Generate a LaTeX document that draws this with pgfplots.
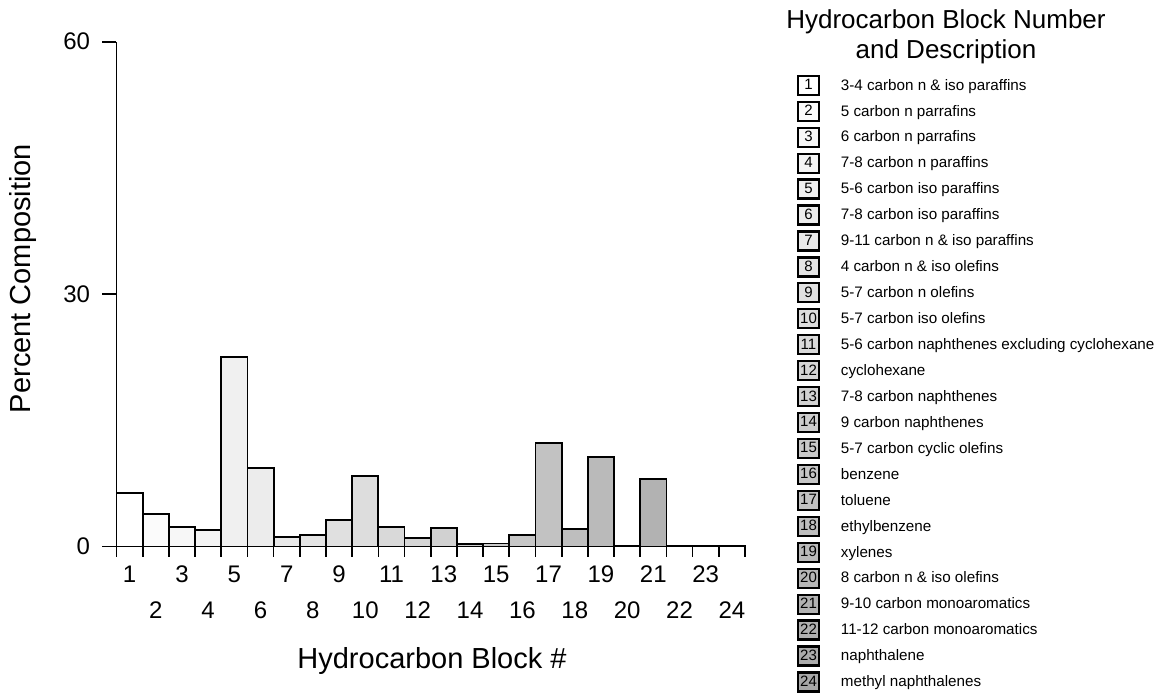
\documentclass[border=0pt]{standalone}
\usepackage{pgfplots}
\pgfplotsset{compat=1.18}
\usepackage{fontspec}
\setmainfont{Liberation Sans}

\newcommand{\hcbar}[4]{%
\addplot[ybar, bar width=1, bar shift=0pt, draw=black, line width=1.8pt, fill=black!#3,
  legend image code/.code={%
    \node[draw=black, line width=2.2pt, fill=black!#3, minimum width=21pt, minimum height=19pt,
      inner sep=0pt, anchor=west, font=\fontsize{15}{15}\selectfont] at (0pt,0pt) {#1};
    \path[draw=none, fill=none] (0pt,0pt) -- (42pt,0pt);}]
  coordinates {(#1,#2)};
\addlegendentry{#4}}

\begin{document}
\begin{tikzpicture}
\begin{axis}[
  name=ax, scale only axis, width=628.5pt, height=504.8pt,
  xmin=0.5, xmax=24.5, ymin=0, ymax=60, clip=false,
  axis x line=bottom, axis y line=left,
  axis line style={-, line width=1.7pt},
  ytick={0,30,60},
  xtick={1,...,24},
  minor xtick={0.5,1.5,...,24.5},
  tick align=outside,
  major tick length=14pt, minor tick length=10pt,
  every tick/.style={black, line width=1.7pt},
  major x tick style={draw=none},
  tick label style={font=\fontsize{24}{24}\selectfont},
  yticklabel style={xshift=-9pt},
  xticklabel style={yshift=-2pt},
  /pgf/number format/assume math mode=true,
  xticklabel={\pgfmathtruncatemacro\t{\tick}\ifodd\t\relax\t\else\vphantom{0}\smash{\raisebox{-35.6pt}{\t}}\fi},
  xlabel={Hydrocarbon Block \#},
  ylabel={Percent Composition},
  label style={font=\fontsize{29}{29}\selectfont},
  xlabel style={at={(axis description cs:0.502,-0.227)}, anchor=center},
  ylabel style={at={(axis description cs:-0.149,0.531)}, anchor=center, rotate=0},
  legend style={at={(axis description cs:1.0823,0.935)}, anchor=north west, draw=none, fill=none,
    font=\fontsize{15.2}{15.2}\selectfont, row sep=4.74pt, inner sep=0pt},
  legend cell align=left,
]
\hcbar{1}{6.32}{0}{3-4 carbon n \& iso paraffins}
\hcbar{2}{3.83}{1.5}{5 carbon n parrafins}
\hcbar{3}{2.32}{3}{6 carbon n parrafins}
\hcbar{4}{1.96}{4.5}{7-8 carbon n paraffins}
\hcbar{5}{22.49}{6}{5-6 carbon iso paraffins}
\hcbar{6}{9.37}{7.5}{7-8 carbon iso paraffins}
\hcbar{7}{1.16}{9}{9-11 carbon n \& iso paraffins}
\hcbar{8}{1.40}{10.5}{4 carbon n \& iso olefins}
\hcbar{9}{3.11}{12}{5-7 carbon n olefins}
\hcbar{10}{8.38}{13.5}{5-7 carbon iso olefins}
\hcbar{11}{2.28}{15}{5-6 carbon naphthenes excluding cyclohexane}
\hcbar{12}{0.97}{16.5}{cyclohexane}
\hcbar{13}{2.20}{18}{7-8 carbon naphthenes}
\hcbar{14}{0.30}{19.5}{9 carbon naphthenes}
\hcbar{15}{0.35}{21}{5-7 carbon cyclic olefins}
\hcbar{16}{1.33}{22.5}{benzene}
\hcbar{17}{12.34}{24}{toluene}
\hcbar{18}{2.12}{25.5}{ethylbenzene}
\hcbar{19}{10.67}{27}{xylenes}
\hcbar{20}{0.12}{28.5}{8 carbon n \& iso olefins}
\hcbar{21}{8.06}{30}{9-10 carbon monoaromatics}
\hcbar{22}{0.12}{31.5}{11-12 carbon monoaromatics}
\hcbar{23}{0.12}{33}{naphthalene}
\hcbar{24}{0.10}{34.5}{methyl naphthalenes}
\coordinate (BL) at (rel axis cs:0,0);
\node[align=center, font=\fontsize{26}{30}\selectfont, anchor=center] at (axis description cs:1.3198,1.0093)
  {Hydrocarbon Block Number\\and Description};
\end{axis}
\pgfresetboundingbox
\path ([shift={(-116.5pt,-147.5pt)}]BL) rectangle ([shift={(1045.5pt,546.5pt)}]BL);
\end{tikzpicture}
\end{document}
